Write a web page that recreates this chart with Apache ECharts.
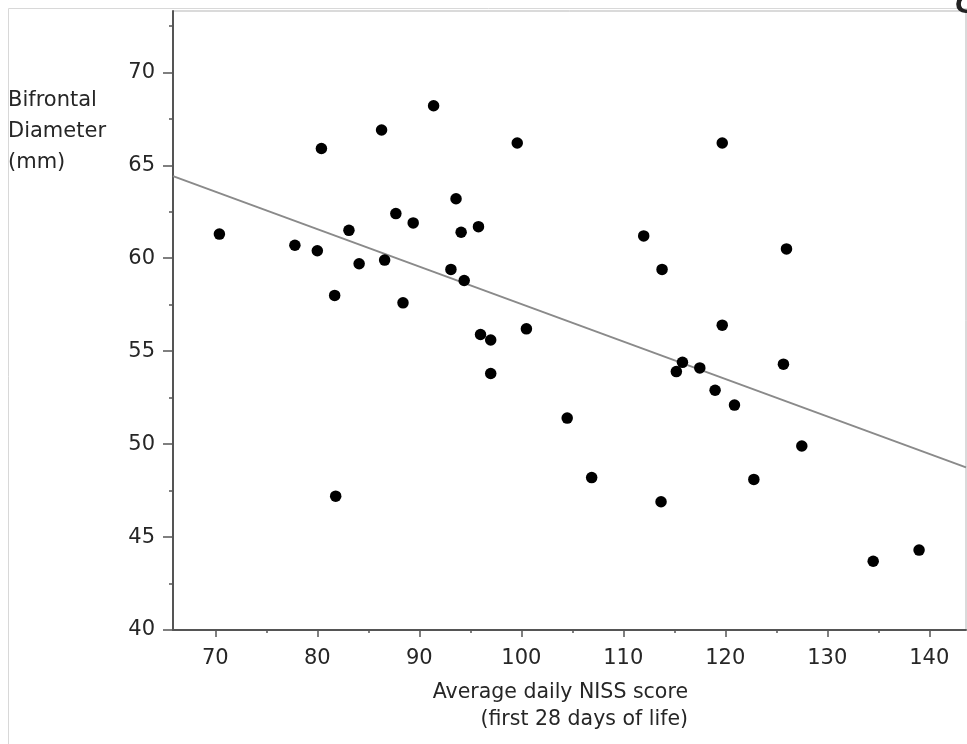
<!DOCTYPE html>
<html>
<head>
<meta charset="utf-8">
<script src="https://cdn.jsdelivr.net/npm/echarts@6/dist/echarts.min.js"></script>
<style>
  html, body { margin: 0; padding: 0; background: #fff; }
  #chart { width: 967px; height: 744px; }
</style>
</head>
<body>
<div id="chart"></div>
<script>
// NISS 平均分 (x) 与额径 (y)
const nissScore = [70.4, 80.4, 86.3, 91.4, 99.6, 93.6, 87.7, 89.4, 94.1, 95.8,
  83.1, 77.8, 80.0, 84.1, 86.6, 93.1, 94.4, 81.7, 88.4, 96.0,
  97.0, 100.5, 97.0, 119.7, 112.0, 113.8, 126.0, 119.7, 115.8, 115.2,
  117.5, 125.7, 119.0, 104.5, 120.9, 127.5, 106.9, 113.7, 122.8, 134.5,
  139.0, 81.8];
const diameter = [61.3, 65.9, 66.9, 68.2, 66.2, 63.2, 62.4, 61.9, 61.4, 61.7,
  61.5, 60.7, 60.4, 59.7, 59.9, 59.4, 58.8, 58.0, 57.6, 55.9,
  55.6, 56.2, 53.8, 66.2, 61.2, 59.4, 60.5, 56.4, 54.4, 53.9,
  54.1, 54.3, 52.9, 51.4, 52.1, 49.9, 48.2, 46.9, 48.1, 43.7,
  44.3, 47.2];
// 回归线两端
const fitX = [65.85, 143.6];
const fitY = [64.42, 48.75];
// 刻度
const xTicks = [70, 80, 90, 100, 110, 120, 130, 140];
const xMinorTicks = [75, 85, 95, 105, 115, 125, 135];
const yTicks = [40, 45, 50, 55, 60, 65, 70];
const yMinorTicks = [42.5, 47.5, 52.5, 57.5, 62.5, 67.5, 72.5];

const X_MIN = 65.85, X_MAX = 143.6, Y_MIN = 40, Y_MAX = 73.3;
const font = 'DejaVu Sans';
const axisColor = '#555';
const textColor = '#262626';

const chart = echarts.init(document.getElementById('chart'));

const option = {
  animation: false,
  backgroundColor: '#fff',
  grid: {
    left: 173, right: 1, top: 11, bottom: 114,
    show: true, borderColor: '#b5b5b5', borderWidth: 1
  },
  xAxis: [
    {
      type: 'value', min: X_MIN, max: X_MAX, position: 'bottom',
      axisLine: { onZero: false, lineStyle: { color: axisColor, width: 2 } },
      axisTick: { customValues: xTicks, length: 7, lineStyle: { color: axisColor, width: 1.5 } },
      axisLabel: { customValues: xTicks, margin: 18, color: textColor, fontSize: 21, fontFamily: font },
      splitLine: { show: false }
    },
    {
      type: 'value', min: X_MIN, max: X_MAX, position: 'bottom',
      axisLine: { show: false },
      axisTick: { customValues: xMinorTicks, length: 3, lineStyle: { color: axisColor, width: 1.5 } },
      axisLabel: { show: false },
      splitLine: { show: false }
    }
  ],
  yAxis: [
    {
      type: 'value', min: Y_MIN, max: Y_MAX, position: 'left',
      axisLine: { show: true, onZero: false, lineStyle: { color: axisColor, width: 2 } },
      axisTick: { show: true, customValues: yTicks, length: 10, lineStyle: { color: axisColor, width: 1.5 } },
      axisLabel: { customValues: yTicks, margin: 18, color: textColor, fontSize: 21, fontFamily: font },
      splitLine: { show: false }
    },
    {
      type: 'value', min: Y_MIN, max: Y_MAX, position: 'left',
      axisLine: { show: false },
      axisTick: { show: true, customValues: yMinorTicks, length: 4, lineStyle: { color: axisColor, width: 1.5 } },
      axisLabel: { show: false },
      splitLine: { show: false }
    }
  ],
  graphic: [
    {
      type: 'rect', silent: true, z: -1,
      shape: { x: 8.5, y: 8.5, width: 1000, height: 800 },
      style: { fill: 'none', stroke: '#d8d8d8', lineWidth: 1 }
    },
    {
      type: 'text', left: 8, top: 85,
      style: {
        text: 'Bifrontal\nDiameter\n(mm)',
        font: '21px "DejaVu Sans"', fill: textColor, lineHeight: 31
      }
    },
    {
      type: 'text', x: 688, y: 679,
      style: {
        text: 'Average daily NISS score\n(first 28 days of life)',
        font: '20.5px "DejaVu Sans"', fill: textColor, lineHeight: 27,
        align: 'right', verticalAlign: 'top'
      }
    },
    {
      type: 'text', x: 955, y: -5,
      style: { text: 'C', font: 'bold 24px "DejaVu Sans"', fill: '#222' }
    }
  ],
  series: [
    {
      type: 'line',
      xAxisIndex: 0, yAxisIndex: 0,
      data: fitX.map((x, i) => [x, fitY[i]]),
      symbol: 'none',
      lineStyle: { color: '#8a8a8a', width: 2 },
      z: 1
    },
    {
      type: 'scatter',
      xAxisIndex: 0, yAxisIndex: 0,
      data: nissScore.map((x, i) => [x, diameter[i]]),
      symbol: 'circle',
      symbolSize: 11.5,
      itemStyle: { color: '#000', opacity: 1 },
      z: 3
    }
  ]
};

chart.setOption(option);
</script>
</body>
</html>
